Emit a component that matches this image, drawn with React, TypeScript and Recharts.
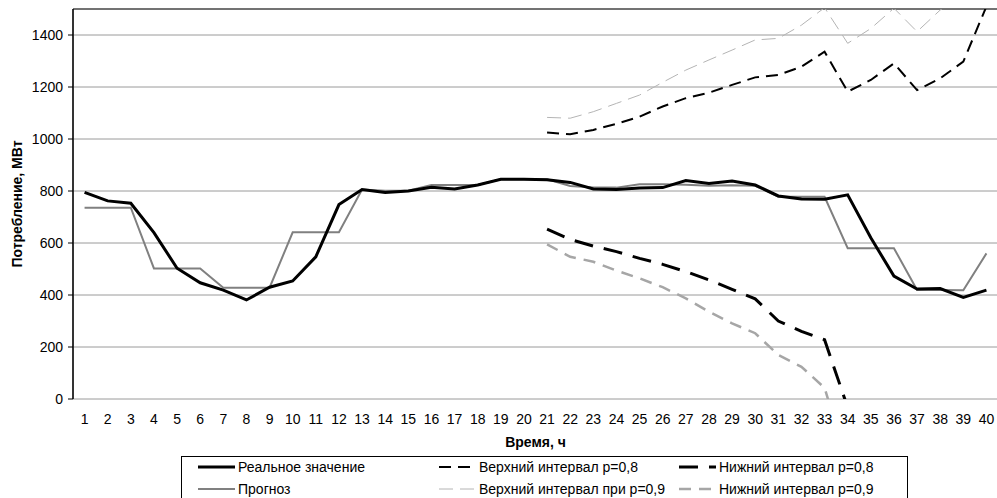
import React from "react";
import {
  LineChart,
  Line,
  XAxis,
  YAxis,
  CartesianGrid,
  ReferenceLine,
  Legend,
} from "recharts";

const hours = [
  1, 2, 3, 4, 5, 6, 7, 8, 9, 10, 11, 12, 13, 14, 15, 16, 17, 18, 19, 20,
  21, 22, 23, 24, 25, 26, 27, 28, 29, 30, 31, 32, 33, 34, 35, 36, 37, 38, 39, 40,
];

const realValues = [
  795, 762, 753, 640, 503, 447, 419, 381, 430, 454, 547, 748, 806, 794, 800, 814, 808, 823, 845, 845,
  843, 833, 808, 806, 812, 813, 840, 829, 838, 823, 781, 769, 768, 785, 620, 473, 423, 425, 391, 419,
];

const forecastValues = [
  736, 736, 736, 502, 502, 502, 428, 428, 428, 641, 641, 641, 806, 801, 801, 823, 823, 823, 845, 845,
  845, 819, 813, 813, 826, 826, 824, 820, 822, 820, 778, 778, 778, 580, 580, 580, 419, 419, 418, 560,
];

// интервалы начинаются с 21-го часа
const intervalStart = 21;
const upper08 = [
  1025, 1018, 1035, 1058, 1086, 1125, 1157, 1178, 1208, 1237, 1246, 1278, 1336, 1182, 1227, 1291,
  1188, 1233, 1298, 1510,
];
const upper09 = [
  1083, 1080, 1105, 1137, 1169, 1218, 1265, 1304, 1342, 1381, 1387, 1438, 1505, 1368, 1425, 1503,
  1413, 1496, 1560, 1620,
];
const lower08 = [653, 614, 588, 567, 541, 518, 490, 458, 422, 385, 300, 260, 228, -33];
const lower09 = [595, 547, 528, 494, 464, 430, 387, 336, 291, 253, 169, 124, 43, -250];

const yTicks = [0, 200, 400, 600, 800, 1000, 1200, 1400];

const seriesNames = {
  real: "Реальное значение",
  forecast: "Прогноз",
  up08: "Верхний интервал p=0,8",
  up09: "Верхний интервал при p=0,9",
  low08: "Нижний интервал p=0,8",
  low09: "Нижний интервал p=0,9",
};

const styles: Record<string, { stroke: string; width: number; dash?: string }> = {
  real: { stroke: "#000000", width: 3 },
  forecast: { stroke: "#808080", width: 2 },
  up08: { stroke: "#000000", width: 2, dash: "12 7" },
  up09: { stroke: "#b4b4b4", width: 1, dash: "14 7" },
  low08: { stroke: "#000000", width: 3, dash: "19 11" },
  low09: { stroke: "#a6a6a6", width: 2.5, dash: "12 8" },
};

const pick = (arr: number[], i: number) => {
  const k = i - (intervalStart - 1);
  return k >= 0 && k < arr.length ? arr[k] : null;
};

const data = hours.map((h, i) => ({
  hour: h,
  real: realValues[i],
  forecast: forecastValues[i],
  up08: pick(upper08, i),
  up09: pick(upper09, i),
  low08: pick(lower08, i),
  low09: pick(lower09, i),
}));

const boundaries = [0, ...hours].map((h) => h + 0.5);

const legendLayout = [
  ["real", "up08", "low08"],
  ["forecast", "up09", "low09"],
];
const colX = [16, 257, 497];

function ChartLegend() {
  return (
    <div
      style={{
        position: "relative",
        width: 727,
        height: 60,
        border: "1px solid #000",
        boxSizing: "border-box",
        background: "#fff",
      }}
    >
      {legendLayout.map((row, r) =>
        row.map((key, c) => {
          const s = styles[key];
          return (
            <div
              key={key}
              style={{
                position: "absolute",
                left: colX[c],
                top: 2 + r * 21.5,
                height: 16,
                display: "flex",
                alignItems: "center",
                whiteSpace: "nowrap",
                fontSize: 14,
                color: "#000",
              }}
            >
              <svg width={38} height={6} style={{ marginRight: 2 }}>
                <line
                  x1={0}
                  y1={3}
                  x2={37}
                  y2={3}
                  stroke={s.stroke}
                  strokeWidth={s.width}
                  strokeDasharray={s.dash}
                />
              </svg>
              {seriesNames[key as keyof typeof seriesNames]}
            </div>
          );
        })
      )}
    </div>
  );
}

export default function App() {
  const keys = ["forecast", "real", "up09", "up08", "low09", "low08"];
  return (
    <div
      style={{
        position: "absolute",
        left: 0,
        top: 0,
        width: 997,
        height: 498,
        overflow: "hidden",
        background: "#fff",
        fontFamily: "'Liberation Sans', Arial, sans-serif",
      }}
    >
      <LineChart width={1000} height={498} data={data} margin={{ top: 9, right: 2, left: 0, bottom: 49 }}>
        <CartesianGrid xAxisId="grid" stroke="#9a9a9a" strokeWidth={1} />
        <XAxis
          xAxisId="grid"
          dataKey="hour"
          type="number"
          domain={[0.5, 40.5]}
          ticks={boundaries}
          tick={false}
          tickSize={5}
          height={0}
          stroke="#000"
          axisLine={{ stroke: "#000", strokeWidth: 1.5 }}
          tickLine={{ stroke: "#000" }}
        />
        <XAxis
          xAxisId="lab"
          dataKey="hour"
          type="number"
          domain={[0.5, 40.5]}
          ticks={hours}
          interval={0}
          axisLine={false}
          tickLine={false}
          tickSize={0}
          tickMargin={15}
          height={50}
          tick={{ fill: "#000", fontSize: 14 }}
          label={{
            value: "Время, ч",
            position: "insideBottom",
            offset: 2,
            style: { fontWeight: "bold", fontSize: 14, fill: "#000" },
          }}
        />
        <YAxis
          domain={[0, 1500]}
          ticks={yTicks}
          allowDataOverflow
          width={73}
          tickSize={5}
          tickMargin={5}
          axisLine={{ stroke: "#000", strokeWidth: 1.5 }}
          tickLine={{ stroke: "#000" }}
          tick={{ fill: "#000", fontSize: 14 }}
          label={{
            value: "Потребление, МВт",
            angle: -90,
            position: "insideLeft",
            offset: 17,
            style: { textAnchor: "middle", fontWeight: "bold", fontSize: 14, fill: "#000" },
          }}
        />
        <ReferenceLine xAxisId="lab" y={1500} stroke="#555" strokeWidth={1.5} />
        {keys.map((k) => (
          <Line
            key={k}
            xAxisId="lab"
            dataKey={k}
            name={seriesNames[k as keyof typeof seriesNames]}
            type="linear"
            stroke={styles[k].stroke}
            strokeWidth={styles[k].width}
            strokeDasharray={styles[k].dash}
            dot={false}
            activeDot={false}
            isAnimationActive={false}
          />
        ))}
        <Legend
          layout="horizontal"
          verticalAlign="middle"
          align="center"
          wrapperStyle={{ left: 181, top: 456, width: 727, height: 60 }}
          content={() => <ChartLegend />}
        />
      </LineChart>
    </div>
  );
}
